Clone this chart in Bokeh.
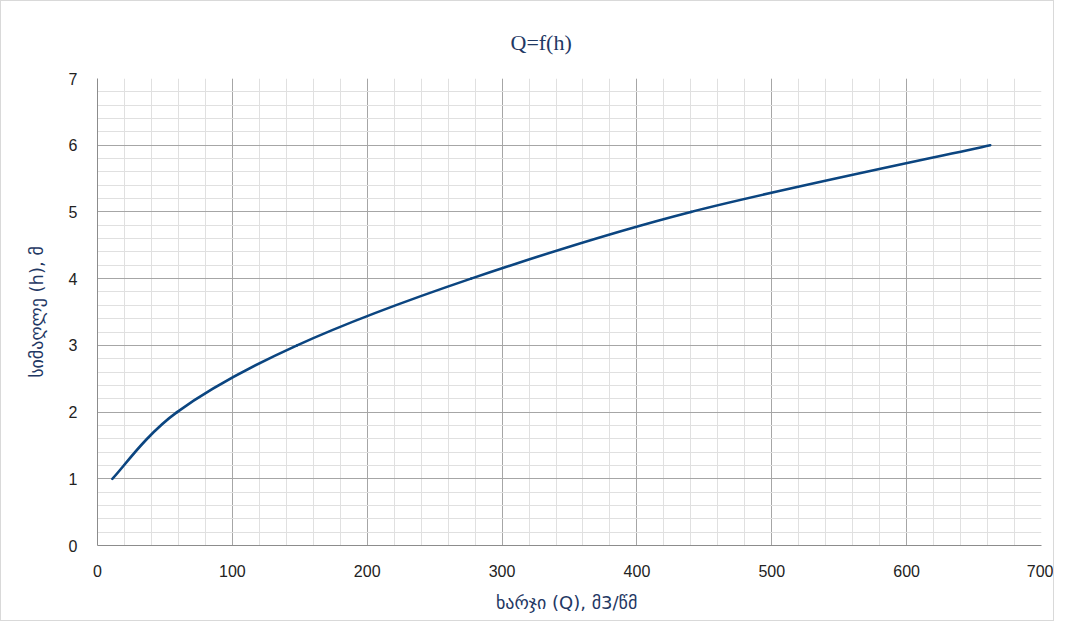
from bokeh.plotting import figure
from bokeh.models import Range1d, SingleIntervalTicker
from bokeh.embed import file_html
from bokeh.resources import INLINE

# Values (discharge Q, m3/s vs. stage h, m)
Q_vals = [11, 59, 148, 277, 440, 662]
h_vals = [1, 2, 3, 4, 5, 6]

title_text = "Q=f(h)"
x_label = "ხარჯი (Q),  მ3/წმ"
y_label = "სიმაღლე (h), მ"

NAVY = "#1f3864"
LINE = "#0b4580"

p = figure(width=1054, height=621, output_backend="svg", toolbar_location=None,
           x_range=Range1d(0, 700), y_range=Range1d(0, 7),
           min_border_left=96, min_border_right=14, min_border_top=77, min_border_bottom=77)
p.styles = {"border": "1px solid #d9d9d9", "box-sizing": "border-box"}

# Smoothed line (as in the spreadsheet's "smoothed line" option):
# each segment between consecutive data points is drawn as a cubic Bezier
# whose control points come from the neighbouring data points.
n = len(Q_vals)
x0, y0, x1, y1, cx0, cy0, cx1, cy1 = [], [], [], [], [], [], [], []
for i in range(n - 1):
    pa = (Q_vals[max(i - 1, 0)], h_vals[max(i - 1, 0)])
    pb = (Q_vals[i], h_vals[i])
    pc = (Q_vals[i + 1], h_vals[i + 1])
    pd = (Q_vals[min(i + 2, n - 1)], h_vals[min(i + 2, n - 1)])
    x0.append(pb[0]); y0.append(pb[1])
    x1.append(pc[0]); y1.append(pc[1])
    cx0.append(pb[0] + (pc[0] - pa[0]) / 6.0); cy0.append(pb[1] + (pc[1] - pa[1]) / 6.0)
    cx1.append(pc[0] - (pd[0] - pb[0]) / 6.0); cy1.append(pc[1] - (pd[1] - pb[1]) / 6.0)

p.bezier(x0=x0, y0=y0, x1=x1, y1=y1, cx0=cx0, cy0=cy0, cx1=cx1, cy1=cy1,
         line_color=LINE, line_width=2.6, line_cap="round")

p.title.text = title_text
p.title.align = "left"
p.title.offset = 413
p.title.text_font = "Liberation Serif"
p.title.text_font_size = "22px"
p.title.text_font_style = "normal"
p.title.text_color = NAVY
p.title.standoff = 48

p.outline_line_color = None
p.background_fill_color = "white"
p.border_fill_color = "white"

p.xaxis.ticker = SingleIntervalTicker(interval=100, num_minor_ticks=5)
p.yaxis.ticker = SingleIntervalTicker(interval=1, num_minor_ticks=5)

for ax in (p.xaxis[0], p.yaxis[0]):
    ax.major_tick_line_color = None
    ax.minor_tick_line_color = None
    ax.axis_line_color = "#8c8c8c"
    ax.major_label_text_font = "Liberation Sans"
    ax.major_label_text_font_size = "16px"
    ax.major_label_text_color = "#222222"
    ax.axis_label_text_font = "DejaVu Sans"
    ax.axis_label_text_font_size = "18px"
    ax.axis_label_text_font_style = "normal"
    ax.axis_label_text_color = NAVY

p.xaxis.axis_label = x_label
p.yaxis.axis_label = y_label
p.xaxis.major_label_standoff = 13
p.yaxis.major_label_standoff = 14
p.xaxis.axis_label_standoff = 12
p.yaxis.axis_label_standoff = 19

p.xgrid.grid_line_color = "#a6a6a6"
p.ygrid.grid_line_color = "#a6a6a6"
p.xgrid.minor_grid_line_color = "#e0e0e0"
p.ygrid.minor_grid_line_color = "#e0e0e0"

open("out.html", "w").write(file_html(p, INLINE))
